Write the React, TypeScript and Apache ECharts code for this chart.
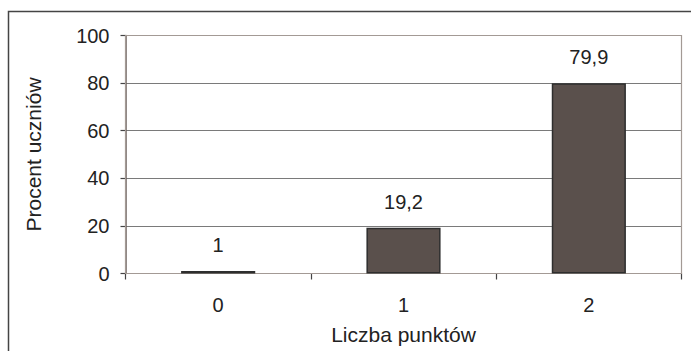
import React, { useEffect, useRef } from "react";
import * as echarts from "echarts";

const categories = ["0", "1", "2"];
const values = [1, 19.2, 79.9];
const yTicks = { min: 0, max: 100, interval: 20 };
const xTitle = "Liczba punktów";
const yTitle = "Procent uczniów";

const FONT = "'Liberation Sans', Arial, sans-serif";

export default function App() {
  const ref = useRef<HTMLDivElement>(null);
  useEffect(() => {
    if (!ref.current) return;
    const chart = echarts.init(ref.current, undefined, { renderer: "svg" });
    chart.setOption({
      animation: false,
      backgroundColor: "#ffffff",
      textStyle: { fontFamily: FONT },
      graphic: [
        {
          type: "rect",
          shape: { x: 8.5, y: 11.5, width: 720, height: 400 },
          style: { fill: "none", stroke: "#444", lineWidth: 1.5 },
          z: 0,
        },
        {
          type: "rect",
          shape: { x: 125.5, y: 35.5, width: 556, height: 238 },
          style: { fill: "none", stroke: "#a39a95", lineWidth: 1.2 },
          z: 1,
        },
      ],
      grid: { left: 125.5, top: 35.5, width: 556, height: 238, containLabel: false },
      xAxis: {
        type: "category",
        data: categories,
        name: xTitle,
        nameLocation: "middle",
        nameGap: 50,
        nameTextStyle: { fontSize: 21, color: "#222", fontFamily: FONT },
        axisLine: { lineStyle: { color: "#555", width: 1.2 } },
        axisTick: { show: true, length: 6, lineStyle: { color: "#444", width: 1.2 } },
        axisLabel: { fontSize: 20, color: "#222", margin: 21, fontFamily: FONT },
      },
      yAxis: {
        type: "value",
        min: yTicks.min,
        max: yTicks.max,
        interval: yTicks.interval,
        name: yTitle,
        nameLocation: "middle",
        nameRotate: 90,
        nameGap: 82,
        nameTextStyle: { fontSize: 21, color: "#222", fontFamily: FONT },
        axisLine: { show: true, lineStyle: { color: "#6a605b", width: 1.5 } },
        axisTick: { show: true, length: 5, lineStyle: { color: "#444", width: 1.2 } },
        axisLabel: { fontSize: 20, color: "#222", margin: 16, fontFamily: FONT },
        splitLine: { show: true, lineStyle: { color: "#7a7a7a", width: 1 } },
      },
      series: [
        {
          type: "bar",
          data: values,
          barCategoryGap: "60%",
          itemStyle: { color: "#5a504c", borderColor: "#2e2e2e", borderWidth: 1.5 },
          label: {
            show: true,
            position: "top",
            distance: 16,
            fontSize: 20,
            color: "#222",
            fontFamily: FONT,
            formatter: (p: any) => String(p.value).replace(".", ","),
          },
        },
      ],
    });
    return () => chart.dispose();
  }, []);
  return (
    <div
      ref={ref}
      style={{ position: "fixed", left: 0, top: 0, width: 691, height: 351 }}
    />
  );
}
